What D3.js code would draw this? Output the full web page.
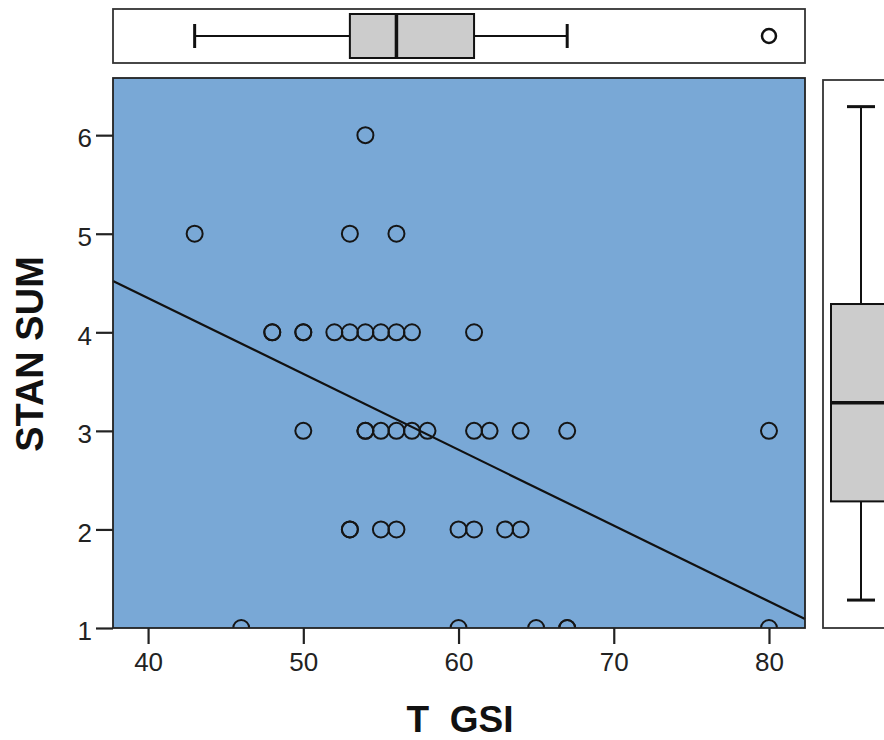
<!DOCTYPE html>
<html><head><meta charset="utf-8">
<script src="https://cdn.jsdelivr.net/npm/d3@7"></script>
<style>body{margin:0;background:#fff}svg{display:block}</style>
</head><body>
<div id="chart"></div>
<script>
// Data (T GSI vs STAN SUM)
const tgsi    = [54, 43,53,56, 48,48,50,50,52,53,54,55,56,57,61, 50,54,54,55,56,57,58,61,62,64,67,80, 53,53,55,56,60,61,63,64, 46,60,65,67,67,80];
const stanSum = [6, 5,5,5, 4,4,4,4,4,4,4,4,4,4,4, 3,3,3,3,3,3,3,3,3,3,3,3, 2,2,2,2,2,2,2,2, 1,1,1,1,1,1];
const xTicks = [40,50,60,70,80];
const yTicks = [1,2,3,4,5,6];
const xTitle = "T  GSI";
const yTitle = "STAN SUM";

const W = 884, H = 740;
const plot = {l:113, r:805, t:78, b:628};
const svg = d3.select("#chart").append("svg").attr("width",W).attr("height",H);

const x = d3.scaleLinear().domain([37.74, 82.32]).range([plot.l, plot.r]);
const y = d3.scaleLinear().domain([1, 6.58]).range([plot.b, plot.t]);
const yBox = d3.scaleLinear().domain([0.717, 6.27]).range([plot.b, plot.t+2]);

// plot background
svg.append("rect").attr("x",plot.l).attr("y",plot.t).attr("width",plot.r-plot.l).attr("height",plot.b-plot.t)
  .attr("fill","#79a8d6");

// regression line (least squares)
const n = tgsi.length, mx = d3.mean(tgsi), my = d3.mean(stanSum);
let sxy=0, sxx=0; for(let i=0;i<n;i++){sxy+=(tgsi[i]-mx)*(stanSum[i]-my); sxx+=(tgsi[i]-mx)**2;}
const slope = sxy/sxx, icpt = my - slope*mx;
const x0 = x.domain()[0], x1 = x.domain()[1];
svg.append("line").attr("x1",x(x0)).attr("y1",y(icpt+slope*x0)).attr("x2",x(x1)).attr("y2",y(icpt+slope*x1))
  .attr("stroke","#111").attr("stroke-width",2.2);

// points
svg.append("clipPath").attr("id","pc").append("rect")
  .attr("x",plot.l).attr("y",plot.t).attr("width",plot.r-plot.l).attr("height",plot.b-plot.t);
svg.append("g").attr("clip-path","url(#pc)").selectAll("circle").data(tgsi).join("circle")
  .attr("cx",(d)=>x(d)).attr("cy",(d,i)=>y(stanSum[i])).attr("r",8)
  .attr("fill","none").attr("stroke","#151515").attr("stroke-width",2);

// frame
svg.append("rect").attr("x",plot.l).attr("y",plot.t).attr("width",plot.r-plot.l).attr("height",plot.b-plot.t)
  .attr("fill","none").attr("stroke","#222").attr("stroke-width",1.8);

// axes
const fontTick = "'Liberation Sans', Arial, sans-serif";
const gx = svg.append("g").attr("transform",`translate(0,${plot.b})`)
  .call(d3.axisBottom(x).tickValues(xTicks).tickSize(16).tickPadding(9).tickFormat(d3.format("d")));
const gy = svg.append("g").attr("transform",`translate(${plot.l},0)`)
  .call(d3.axisLeft(y).tickValues(yTicks).tickSize(17).tickPadding(4).tickFormat(d3.format("d")));
[gx,gy].forEach(g=>{
  g.select(".domain").remove();
  g.selectAll(".tick line").attr("stroke","#222").attr("stroke-width",2.2);
  g.selectAll(".tick text").attr("fill","#222").style("font-family",fontTick).style("font-size","26px");
});
gy.selectAll(".tick text").attr("dy","0.45em");

svg.append("text").attr("x",460).attr("y",732).attr("text-anchor","middle")
  .style("font-family",fontTick).style("font-size","37px").style("font-weight","bold").style("white-space","pre")
  .attr("fill","#111").text(xTitle);
svg.append("text").attr("transform","translate(43,354) rotate(-90)").attr("text-anchor","middle")
  .style("font-family",fontTick).style("font-size","38px").style("font-weight","bold")
  .attr("fill","#111").text(yTitle);

// box stats
function stats(arr){
  const s = arr.slice().sort(d3.ascending);
  const q1 = d3.quantile(s,0.25), med = d3.quantile(s,0.5), q3 = d3.quantile(s,0.75);
  const iqr = q3-q1, lo = q1-1.5*iqr, hi = q3+1.5*iqr;
  const inside = s.filter(v=>v>=lo && v<=hi);
  return {q1, med, q3, wlo:d3.min(inside), whi:d3.max(inside), out:s.filter(v=>v<lo||v>hi)};
}
const sx = stats(tgsi);
sx.q1 = 53; sx.q3 = 61; // SPSS Tukey hinges shown in reference
const sy = stats(stanSum);

// top box plot
const tb = {t:9, b:63};
svg.append("rect").attr("x",plot.l).attr("y",tb.t).attr("width",plot.r-plot.l).attr("height",tb.b-tb.t)
  .attr("fill","#fff").attr("stroke","#333").attr("stroke-width",1.8);
const cy = 36;
const gT = svg.append("g").attr("stroke","#111");
gT.append("line").attr("x1",x(sx.wlo)).attr("x2",x(sx.q1)).attr("y1",cy).attr("y2",cy).attr("stroke-width",2);
gT.append("line").attr("x1",x(sx.q3)).attr("x2",x(sx.whi)).attr("y1",cy).attr("y2",cy).attr("stroke-width",2);
[sx.wlo, sx.whi].forEach(v=>gT.append("line").attr("x1",x(v)).attr("x2",x(v)).attr("y1",cy-12).attr("y2",cy+12).attr("stroke-width",3));
gT.append("rect").attr("x",x(sx.q1)).attr("y",14).attr("width",x(sx.q3)-x(sx.q1)).attr("height",44)
  .attr("fill","#cccccc").attr("stroke-width",2);
gT.append("line").attr("x1",x(sx.med)).attr("x2",x(sx.med)).attr("y1",14).attr("y2",58).attr("stroke-width",3.5);
svg.selectAll(".outx").data(Array.from(new Set(sx.out))).join("circle")
  .attr("cx",d=>x(d)).attr("cy",cy).attr("r",7).attr("fill","none").attr("stroke","#111").attr("stroke-width",2.5);

// right box plot
const rb = {l:823, r:898};
svg.append("rect").attr("x",rb.l).attr("y",plot.t+2).attr("width",rb.r-rb.l).attr("height",plot.b-plot.t-2)
  .attr("fill","#fff").attr("stroke","#333").attr("stroke-width",1.8);
const cx = 861;
const gR = svg.append("g").attr("stroke","#111");
gR.append("line").attr("x1",cx).attr("x2",cx).attr("y1",yBox(sy.whi)).attr("y2",yBox(sy.q3)).attr("stroke-width",2);
gR.append("line").attr("x1",cx).attr("x2",cx).attr("y1",yBox(sy.q1)).attr("y2",yBox(sy.wlo)).attr("stroke-width",2);
[sy.wlo, sy.whi].forEach(v=>gR.append("line").attr("x1",cx-14).attr("x2",cx+14).attr("y1",yBox(v)).attr("y2",yBox(v)).attr("stroke-width",3));
gR.append("rect").attr("x",831).attr("y",yBox(sy.q3)).attr("width",60).attr("height",yBox(sy.q1)-yBox(sy.q3))
  .attr("fill","#cccccc").attr("stroke-width",2);
gR.append("line").attr("x1",831).attr("x2",891).attr("y1",yBox(sy.med)).attr("y2",yBox(sy.med)).attr("stroke-width",3.5);
</script>
</body></html>
